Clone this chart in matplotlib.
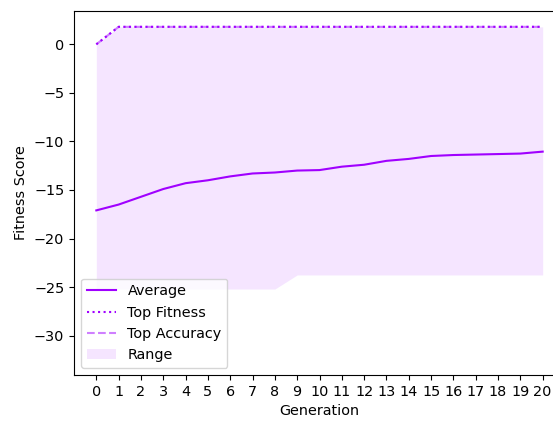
import matplotlib
matplotlib.use("Agg")
import matplotlib.pyplot as plt
import numpy as np

# data
generations = list(range(21))
average = [-17.1, -16.5, -15.7, -14.9, -14.3, -14.0, -13.6, -13.3, -13.2, -13.0,
           -12.95, -12.6, -12.4, -12.0, -11.8, -11.5, -11.4, -11.35, -11.3, -11.25, -11.05]
top_fitness = [0.0] + [1.8] * 20
top_accuracy = [0.0] + [1.8] * 20
range_low = [-25.2] * 9 + [-23.75] * 12

color = "#a000ff"
plt.rcParams["font.size"] = 10.4

fig = plt.figure(figsize=(5.53, 4.21), dpi=100)
ax = fig.add_axes([74 / 553, 46 / 421, (565 - 74) / 553, (375 - 11) / 421])

ax.fill_between(generations, range_low, top_fitness, color=color, alpha=0.1, linewidth=0, label="Range")
ax.plot(generations, average, color=color, linewidth=1.5, label="Average")
ax.plot(generations, top_accuracy, color=color, alpha=0.5, linestyle="--", linewidth=1.5, label="Top Accuracy")
ax.plot(generations, top_fitness, color=color, linestyle=":", linewidth=1.5, label="Top Fitness")

ax.set_xlim(-1, 21)
ax.set_ylim(-34.05, 3.43)
ax.set_xticks(generations)
ax.set_xlabel("Generation")
ax.set_ylabel("Fitness Score")
ax.spines["right"].set_visible(False)

#legend order as in the picture
handles, labels = ax.get_legend_handles_labels()
order = [labels.index(n) for n in ["Average", "Top Fitness", "Top Accuracy", "Range"]]
ax.legend([handles[i] for i in order], [labels[i] for i in order], loc="lower left")

fig.savefig("out.png", dpi=100)
